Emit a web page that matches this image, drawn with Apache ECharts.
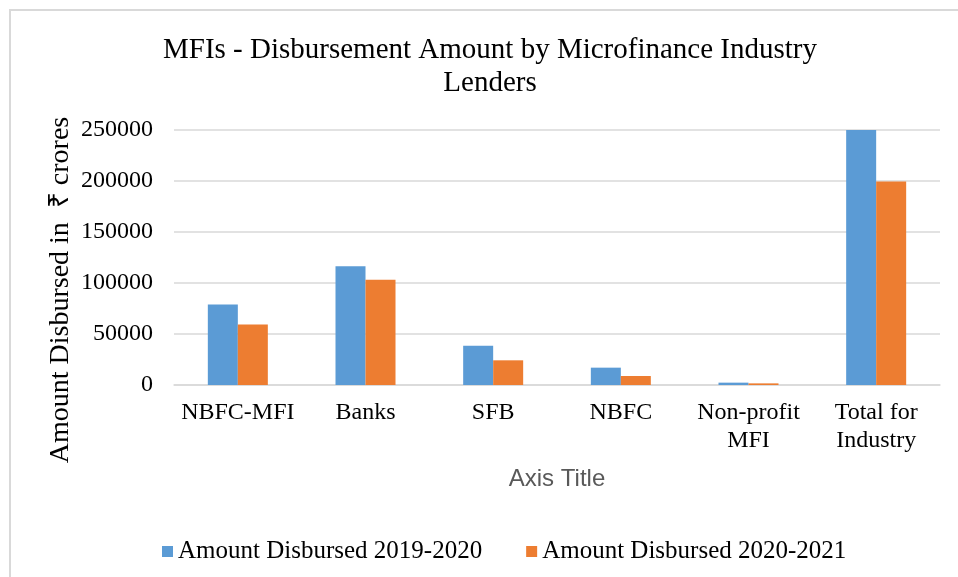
<!DOCTYPE html>
<html>
<head>
<meta charset="utf-8">
<script src="https://cdn.jsdelivr.net/npm/echarts@6/dist/echarts.min.js"></script>
<style>
html,body{margin:0;padding:0;background:#fff;}
#frame{position:absolute;left:9px;top:9px;width:960px;height:580px;border-left:2px solid #d9d9d9;border-top:2px solid #d9d9d9;}
#chart{position:absolute;left:0;top:0;width:958px;height:577px;}
</style>
</head>
<body>
<div id="frame"></div>
<div id="chart"></div>
<script>
const categories = ['NBFC-MFI', 'Banks', 'SFB', 'NBFC', 'Non-profit\nMFI', 'Total for\nIndustry'];
const series2019 = [78900, 116300, 38600, 17000, 2300, 253100];
const series2020 = [59300, 103200, 24200, 8800, 1600, 199600];
const yTicks = [0, 50000, 100000, 150000, 200000, 250000];
const seriesNames = ['Amount Disbursed 2019-2020', 'Amount Disbursed 2020-2021'];
const titleLines = ['MFIs - Disbursement Amount by Microfinance Industry', 'Lenders'];

const serif = '"Liberation Serif", "Times New Roman", serif';
const chart = echarts.init(document.getElementById('chart'));
chart.setOption({
  animation: false,
  backgroundColor: 'transparent',
  color: ['#5b9bd5', '#ed7d31'],
  graphic: [
    { type: 'text', x: 490, y: 50, style: { text: titleLines[0], font: '29px ' + serif, fill: '#000', textAlign: 'center', textVerticalAlign: 'middle' } },
    { type: 'text', x: 490, y: 83, style: { text: titleLines[1], font: '29px ' + serif, fill: '#000', textAlign: 'center', textVerticalAlign: 'middle' } },
    { type: 'text', x: 61, y: 290, rotation: Math.PI / 2, style: { text: 'Amount Disbursed in  \u20B9 crores', font: '28px ' + serif, fill: '#000', textAlign: 'center', textVerticalAlign: 'middle' } },
    { type: 'text', x: 557, y: 479, style: { text: 'Axis Title', font: '24px "Liberation Sans", Arial, sans-serif', fill: '#595959', textAlign: 'center', textVerticalAlign: 'middle' } }
  ],
  legend: {
    top: 534,
    left: 157,
    icon: 'rect',
    itemWidth: 11,
    itemHeight: 11,
    itemGap: 44,
    textStyle: { fontFamily: serif, fontSize: 25, color: '#000' },
    data: seriesNames
  },
  grid: { left: 174, right: 18, top: 130, bottom: 192 },
  xAxis: {
    type: 'category',
    data: categories,
    axisLine: { show: true, lineStyle: { color: '#d9d9d9', width: 1.5 } },
    axisTick: { show: false },
    axisLabel: { fontFamily: serif, fontSize: 24, color: '#000', margin: 14, lineHeight: 28, interval: 0 }
  },
  yAxis: {
    type: 'value',
    min: 0,
    max: 250000,
    interval: 50000,
    axisLine: { show: false },
    axisTick: { show: false },
    splitLine: { lineStyle: { color: '#d9d9d9', width: 1.5 } },
    axisLabel: { fontFamily: serif, fontSize: 24, color: '#000', margin: 21,
      formatter: v => yTicks.includes(v) ? String(v) : '' }
  },
  series: [
    { name: seriesNames[0], type: 'bar', data: series2019, barGap: '0%', barCategoryGap: '53%', clip: true },
    { name: seriesNames[1], type: 'bar', data: series2020, barGap: '0%', barCategoryGap: '53%', clip: true }
  ]
});
</script>
</body>
</html>
